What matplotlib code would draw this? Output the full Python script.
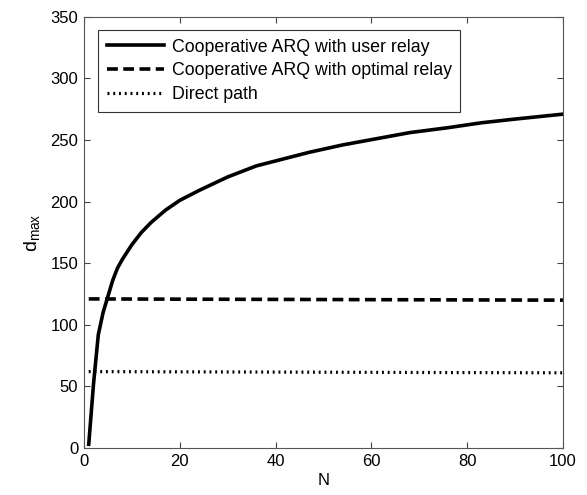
import matplotlib
matplotlib.use("Agg")
import matplotlib.pyplot as plt

plt.rcParams['font.family'] = ['Liberation Sans', 'DejaVu Sans']
plt.rcParams['mathtext.fontset'] = 'custom'
plt.rcParams['mathtext.rm'] = 'Liberation Sans'
plt.rcParams['mathtext.it'] = 'Liberation Sans'

# values
n_user = [1, 2, 3, 4, 5, 6, 7, 8, 10, 12, 14, 17, 20, 24, 30, 36, 42, 47,
          54, 61, 68, 76, 83, 90, 100]
d_user = [3, 52, 92, 110, 123, 136, 146, 153, 165, 175, 183, 193, 201, 209,
          220, 229, 235, 240, 246, 251, 256, 260, 264, 267, 271]

n_flat = [1, 100]
d_optimal = [121, 120]
d_direct = [62, 61]

labels = ['Cooperative ARQ with user relay',
          'Cooperative ARQ with optimal relay',
          'Direct path']

fig = plt.figure(figsize=(5.87, 4.95), dpi=100)
ax = fig.add_axes([0.143, 0.095, 0.816, 0.871])

ax.plot(n_user, d_user, color='black', linewidth=2.6, label=labels[0])
ax.plot(n_flat, d_optimal, color='black', linewidth=2.6, linestyle=(0, (3, 1.5)),
        label=labels[1])
ax.plot(n_flat, d_direct, color='black', linewidth=2.3, linestyle=(0, (0.6, 1.2)),
        label=labels[2])

ax.set_xlim(0, 100)
ax.set_ylim(0, 350)
ax.set_xticks(range(0, 101, 20))
ax.set_yticks(range(0, 351, 50))
ax.tick_params(direction='in', top=True, right=True, length=4, width=0.8,
               labelsize=12, color='#444444', pad=4)
for s in ax.spines.values():
    s.set_color('#555555')
    s.set_linewidth(0.8)

ax.set_xlabel('N', fontsize=12, labelpad=3)
ax.set_ylabel(r'd$_{\mathrm{max}}$', fontsize=14, labelpad=6)

leg = ax.legend(loc='upper left', bbox_to_anchor=(0.029, 0.97), fontsize=12.8,
                frameon=True, fancybox=False, framealpha=1, edgecolor='#333333',
                handlelength=3.2, handletextpad=0.45, labelspacing=0.38,
                borderpad=0.5, borderaxespad=0)
leg.get_frame().set_linewidth(0.8)

fig.savefig('out.png', dpi=100)
